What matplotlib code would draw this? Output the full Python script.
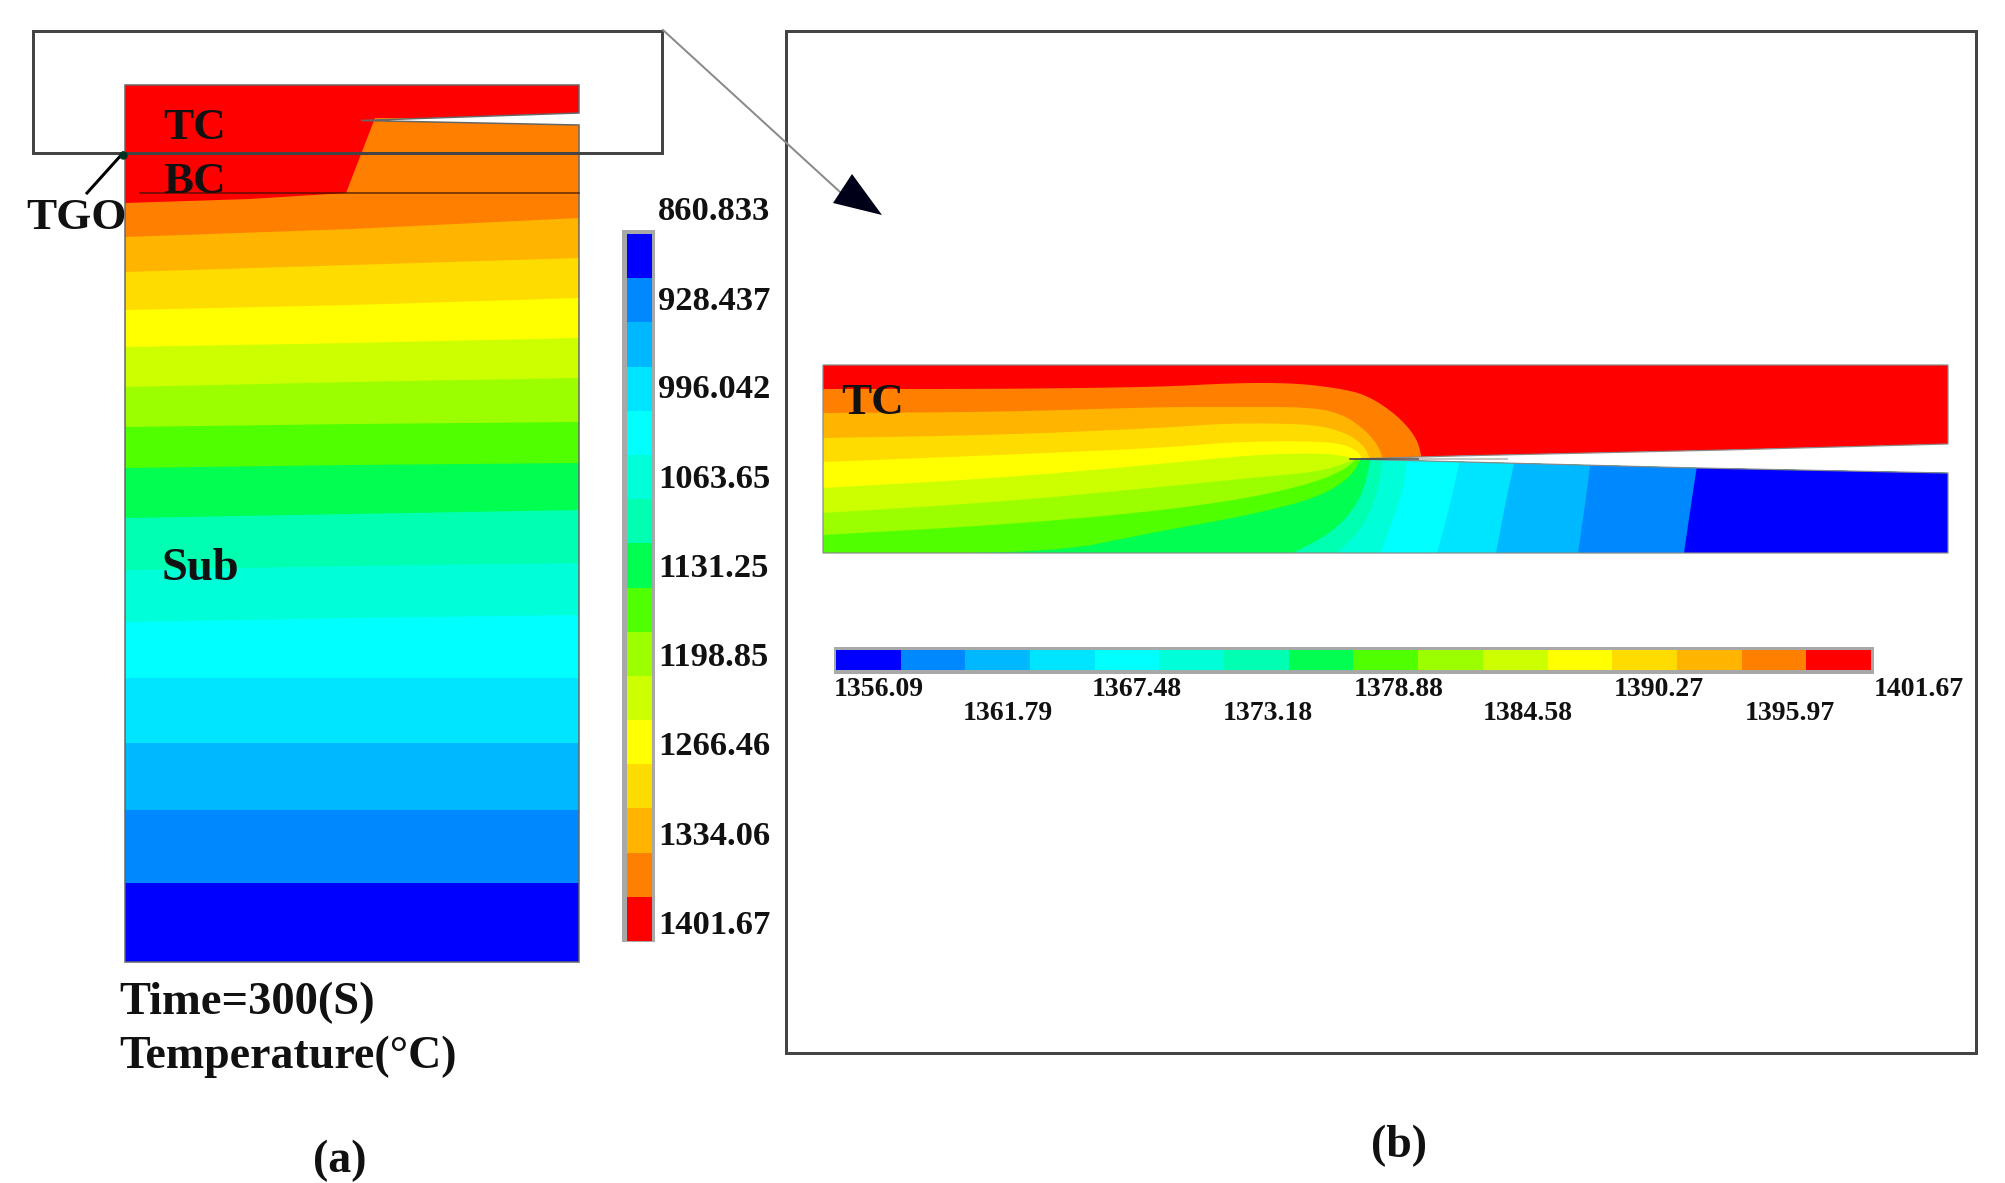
import numpy as np
import matplotlib
matplotlib.use("Agg")
import matplotlib.pyplot as plt
from matplotlib.patches import Polygon, Rectangle

plt.rcParams['font.family'] = ['Liberation Serif', 'DejaVu Serif']

# ---- colour levels, cold to hot ----
level_colors = ['#0000ff', '#0088ff', '#00b8ff', '#00e5ff', '#00ffff', '#00ffd8', '#00ffb0', '#00ff50',
                '#50ff00', '#9cff00', '#ccff00', '#ffff00', '#ffdc00', '#ffb400', '#ff8000', '#ff0000']

# ---- legend labels ----
labels_a = ['860.833', '928.437', '996.042', '1063.65', '1131.25', '1198.85', '1266.46', '1334.06', '1401.67']
labels_a_y = [211, 301, 389, 479, 568, 657, 746, 836, 925]
labels_b = ['1356.09', '1361.79', '1367.48', '1373.18', '1378.88', '1384.58', '1390.27', '1395.97', '1401.67']
labels_b_x = [834, 963, 1092, 1223, 1354, 1483, 1614, 1745, 1874]

# ---- panel (a): outline and isotherm depths at three stations ----
a_outline_x = [125, 579, 579, 361, 579, 579, 125]
a_outline_y = [85, 85, 113, 120.5, 125, 962, 962]
a_station_x = [125, 352, 579]
a_orange_x = [375, 346, 250, 125]
a_orange_y = [118, 193, 199, 203]
a_isotherms = [  # hot to cold, from amber downward; bottom edge of the band above
    [237, 229, 218], [272, 265, 258], [310, 305, 298], [347, 343, 338],
    [387, 382, 378], [427, 424, 422], [468, 465, 463], [518, 514, 510],
    [570, 566, 563], [622, 618, 615], [678, 678, 678], [743, 743, 743],
    [810, 810, 810], [883, 883, 883]]

# ---- panel (b): outline and isotherm curves, hot to cold ----
b_outline_x = [823, 1948, 1948, 1725, 1455, 1350, 1698, 1948, 1948, 823]
b_outline_y = [365, 365, 444, 450, 456, 459, 468, 473, 553, 553]
b_curves = [
    [(823, 389), (1000, 389), (1160, 387), (1233, 383), (1293, 383), (1337, 388), (1367, 395), (1397, 415), (1417, 438), (1422, 459)],
    [(823, 413), (1000, 412), (1160, 407), (1233, 407), (1307, 407), (1340, 413), (1363, 428), (1378, 445), (1383, 459)],
    [(823, 438), (1000, 435), (1160, 428), (1233, 423), (1300, 424), (1327, 427), (1350, 435), (1365, 447), (1370, 459)],
    [(823, 462), (1000, 455), (1160, 448), (1233, 442), (1300, 441), (1340, 443), (1358, 451), (1362, 459)],
    [(823, 488), (1000, 478), (1150, 465), (1250, 455), (1317, 453), (1345, 456), (1354, 459)],
    [(823, 513), (1000, 502), (1150, 488), (1250, 478), (1317, 472), (1347, 463), (1354, 459)],
    [(823, 535), (1000, 525), (1150, 512), (1250, 498), (1317, 482), (1347, 468), (1356, 459)],
    [(823, 553), (1053, 553), (1150, 533), (1250, 515), (1317, 498), (1350, 478), (1361, 459)],
    [(1293, 553), (1333, 532), (1357, 505), (1367, 478), (1370, 459)],
    [(1337, 553), (1365, 525), (1378, 490), (1383, 459)],
    [(1380, 553), (1397, 510), (1405, 480), (1407, 459)],
    [(1437, 553), (1450, 505), (1460, 459)],
    [(1496, 553), (1505, 505), (1515, 459)],
    [(1578, 553), (1585, 505), (1591, 459)],
    [(1684, 553), (1691, 505), (1698, 459)],
]

W, H = 2006, 1183
fig = plt.figure(figsize=(W / 100, H / 100), dpi=100, facecolor='white')
ax = fig.add_axes([0, 0, 1, 1])
ax.set_xlim(0, W)
ax.set_ylim(H, 0)
ax.axis('off')
px = 0.72  # one pixel, in points
hot_to_cold = level_colors[::-1]


def smooth(points, n=2):
    p = np.asarray(points, float)
    for _ in range(n):
        q = np.empty((2 * len(p), 2))
        q[0::2] = 0.75 * p + 0.25 * np.roll(p, -1, axis=0)
        q[1::2] = 0.25 * p + 0.75 * np.roll(p, -1, axis=0)
        p = np.vstack([p[0], q[:-2], p[-1]])
    return p


def filled(xy, color, clip=None, z=2):
    patch = Polygon(xy, closed=True, facecolor=color, edgecolor='none', zorder=z)
    ax.add_patch(patch)
    if clip is not None:
        patch.set_clip_path(clip)
    return patch


# panel (a)
a_outline = np.column_stack([a_outline_x, a_outline_y])
a_clip = Polygon(a_outline, closed=True, transform=ax.transData)
filled(a_outline, hot_to_cold[0], a_clip)
filled(list(zip(a_orange_x, a_orange_y)) + [(125, 962), (579, 962), (579, 118)], hot_to_cold[1], a_clip)
for color, depth in zip(hot_to_cold[2:], a_isotherms):
    filled(list(zip(a_station_x, depth)) + [(579, 962), (125, 962)], color, a_clip)
ax.add_patch(Polygon(a_outline, closed=True, fill=False, edgecolor='#666666', lw=1.5 * px, zorder=3))
ax.plot([140, 579], [193, 193], color='#331100', lw=1.5 * px, alpha=0.8, zorder=4)

# panel (b)
b_outline = np.column_stack([b_outline_x, b_outline_y])
b_clip = Polygon(b_outline, closed=True, transform=ax.transData)
filled(b_outline, hot_to_cold[0], b_clip)
for color, curve in zip(hot_to_cold[1:], b_curves):
    line = smooth(curve, 2)
    tail = [(1960, 459), (1960, 560)]
    head = [(curve[0][0], 560)]
    filled(np.vstack([line, tail, head]), color, b_clip)
ax.add_patch(Polygon(b_outline, closed=True, fill=False, edgecolor='#888888', lw=1.2 * px, zorder=3))
ax.plot([1350, 1420], [459, 459], color='#444444', lw=1.5 * px, zorder=4)
ax.plot([1420, 1507], [459, 459], color='#c8c8c8', lw=2 * px, zorder=4)

# colour keys
edges_a = np.linspace(234, 941, len(level_colors) + 1)
ax.add_patch(Rectangle((622, 230), 33, 712, facecolor='#a8a8a8', edgecolor='none', zorder=2))
for c, t, b in zip(level_colors, edges_a[:-1], edges_a[1:]):
    ax.add_patch(Rectangle((627, t), 25, b - t, facecolor=c, edgecolor='none', zorder=3))
edges_b = np.linspace(836, 1871, len(level_colors) + 1)
ax.add_patch(Rectangle((834, 647), 1040, 27, facecolor='#a8a8a8', edgecolor='none', zorder=2))
for c, l, r in zip(level_colors, edges_b[:-1], edges_b[1:]):
    ax.add_patch(Rectangle((l, 650), r - l, 20, facecolor=c, edgecolor='none', zorder=3))

# frames and connectors
ink = '#444444'
ax.add_patch(Rectangle((33, 31), 629, 122, fill=False, edgecolor=ink, lw=3 * px, zorder=5))
ax.add_patch(Rectangle((786, 31), 1190, 1022, fill=False, edgecolor=ink, lw=3 * px, zorder=5))
ax.plot([663, 840], [30, 192], color='#8a8a8a', lw=2 * px, zorder=5)
ax.add_patch(Polygon([(882, 215), (852, 174), (833, 203)], closed=True, facecolor='#000018', edgecolor='none', zorder=6))
ax.plot([87, 123], [193, 153], color='black', lw=3 * px, zorder=6)
ax.plot([123], [155], 'o', color='#003322', ms=7 * px, zorder=6)

# text
ink_t = '#111111'


def label(x, y, s, size, ha='left'):
    ax.text(x, y, s, fontsize=size, fontweight='bold', ha=ha, va='center', color=ink_t, zorder=7)


label(163, 128, 'TC', 32.5)
label(163, 182, 'BC', 32.5)
label(26, 218, 'TGO', 32.5)
label(162, 569, 'Sub', 33.5)
label(841, 403, 'TC', 32.5)
label(119, 1003, 'Time=300(S)', 33.5)
label(119, 1057, 'Temperature(°C)', 33)
label(340, 1161, '(a)', 33, ha='center')
label(1399, 1146, '(b)', 33, ha='center')
for s, y in zip(labels_a, labels_a_y):
    label(658, y, s, 24.8)
for i, (s, x) in enumerate(zip(labels_b, labels_b_x)):
    label(x, 689 if i % 2 == 0 else 713, s, 20)

fig.savefig('out.png', dpi=100, facecolor='white')
